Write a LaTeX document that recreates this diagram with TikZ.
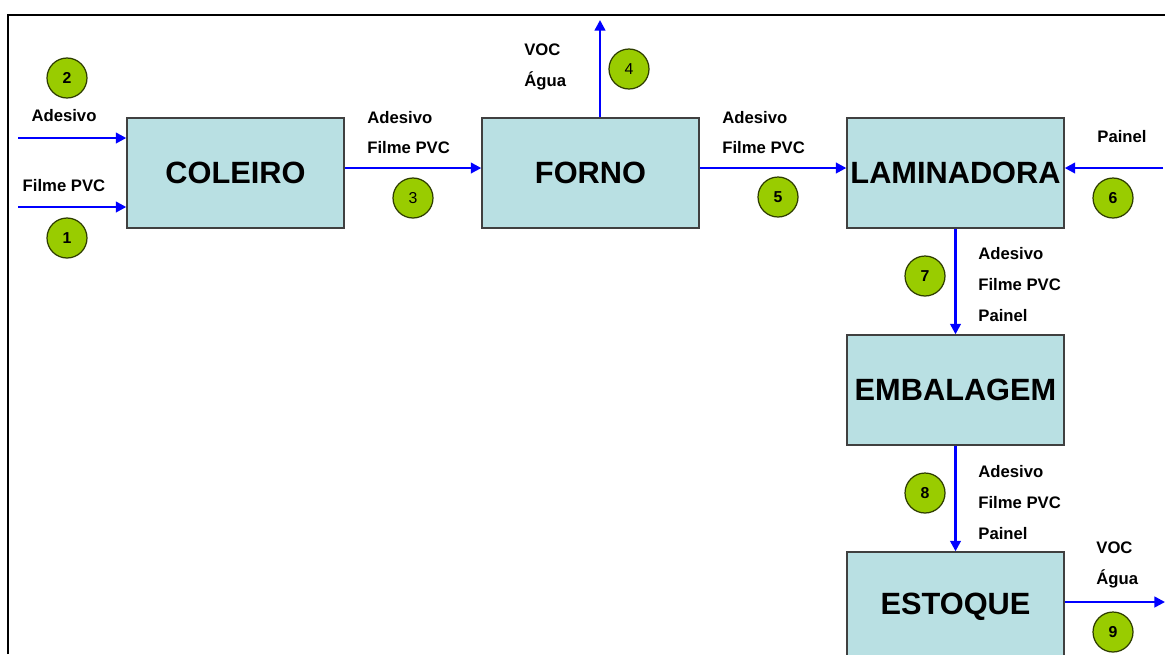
\documentclass[tikz,border=0pt]{standalone}
\usepackage{fontspec}
\setmainfont{Liberation Sans}
\usetikzlibrary{arrows.meta}
\definecolor{caixa}{HTML}{B9E0E3}
\definecolor{bola}{HTML}{99CC00}
\definecolor{fluxo}{HTML}{0000FF}
\begin{document}
\begin{tikzpicture}[x=0.02cm, y=-0.02cm,
  etapa/.style={draw=black!75, line width=0.8pt, fill=caixa, minimum width=4.34cm,
    minimum height=2.2cm, inner sep=0pt, font=\bfseries\fontsize{17.5}{20}\selectfont},
  numero/.style={circle, draw=black!70!bola, line width=0.7pt, fill=bola, minimum size=0.8cm,
    inner sep=0pt, font=\bfseries\fontsize{9}{10}\selectfont},
  rotulo/.style={align=left, inner sep=0pt, font=\bfseries\fontsize{9.5}{17.6}\selectfont},
  seta/.style={draw=fluxo, line width=1.4pt, -{Triangle[length=6pt, width=6pt]}}]
  \useasboundingbox (0,0) rectangle (1165,654);
  \clip (0,0) rectangle (1165,654);

  % moldura
  \draw[line width=0.9pt] (8,654) -- (8,15) -- (1165,15);

  % etapas do processo
  \node[etapa] (coleiro) at (235.5,173) {COLEIRO};
  \node[etapa] (forno) at (590.5,173) {FORNO};
  \node[etapa] (lamin) at (955.5,173) {LAMINADORA};
  \node[etapa] (embal) at (955.5,390) {EMBALAGEM};
  \node[etapa] (estoque) at (955.5,607) {ESTOQUE};

  % pontas livres
  \coordinate (adesivoin) at (18,138);
  \coordinate (filmein) at (18,207);
  \coordinate (vapor) at (600,20);
  \coordinate (painelin) at (1163,168);
  \coordinate (saida) at (1165,602);

  % fluxos
  \draw[seta] (adesivoin) -- (adesivoin -| coleiro.west);
  \draw[seta] (filmein) -- (filmein -| coleiro.west);
  \draw[seta] (coleiro.east |- 0,168) -- (forno.west |- 0,168);
  \draw[seta] (vapor |- forno.north) -- (vapor);
  \draw[seta] (forno.east |- 0,168) -- (lamin.west |- 0,168);
  \draw[seta] (painelin) -- (painelin -| lamin.east);
  \draw[seta] (lamin.south) -- (embal.north);
  \draw[seta] (embal.south) -- (estoque.north);
  \draw[seta] (saida -| estoque.east) -- (saida);

  % correntes
  \node[numero] (n1) at (67,238) {1};
  \node[numero] (n2) at (67,78) {2};
  \node[numero, font=\fontsize{9}{10}\selectfont] (n3) at (413,198) {3};
  \node[numero, font=\fontsize{9}{10}\selectfont] (n4) at (629,69) {4};
  \node[numero] (n5) at (778,197) {5};
  \node[numero] (n6) at (1113,198) {6};
  \node[numero] (n7) at (925,276) {7};
  \node[numero] (n8) at (925,493) {8};
  \node[numero] (n9) at (1113,632) {9};

  % composicao das correntes
  \node[rotulo] (r2) at (64,116) {Adesivo};
  \node[rotulo] (r1) at (64,186) {Filme PVC};
  \node[rotulo, anchor=west] (r3) at (367,132.5) {Adesivo\\Filme PVC};
  \node[rotulo, anchor=west] (r4) at (524,66.5) {VOC\\Água};
  \node[rotulo, anchor=west] (r5) at (722,132.5) {Adesivo\\Filme PVC};
  \node[rotulo] (r6) at (1122,137) {Painel};
  \node[rotulo, anchor=west] (r7) at (978,284.5) {Adesivo\\Filme PVC\\Painel};
  \node[rotulo, anchor=west] (r8) at (978,502.5) {Adesivo\\Filme PVC\\Painel};
  \node[rotulo, anchor=west] (r9) at (1096,565) {VOC\\Água};
\end{tikzpicture}
\end{document}
